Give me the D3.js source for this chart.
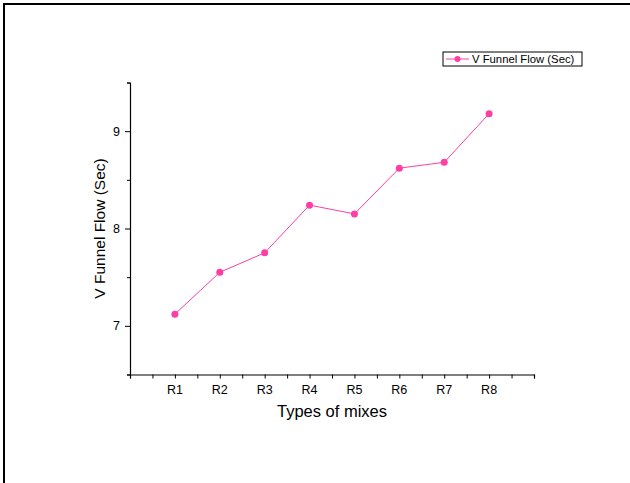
<!DOCTYPE html>
<html>
<head>
<meta charset="utf-8">
<script src="https://cdn.jsdelivr.net/npm/d3@7/dist/d3.min.js"></script>
<style>
  html, body { margin: 0; padding: 0; background: #fff; }
  svg { display: block; font-family: Arial, "Liberation Sans", sans-serif; }
</style>
</head>
<body>
<svg id="chart" width="630" height="483"></svg>
<script>
// Mix labels and measured V-funnel flow times (seconds)
const mixes = ["R1", "R2", "R3", "R4", "R5", "R6", "R7", "R8"];
const flowTimes = [7.12, 7.55, 7.75, 8.24, 8.15, 8.62, 8.68, 9.18];
const yTickValues = [7, 8, 9];
const seriesName = "V Funnel Flow (Sec)";

const pink = "#ff3ea5";
const svg = d3.select("#chart");

// Outer frame: top and left edges only
svg.append("line").attr("x1", 3).attr("x2", 630).attr("y1", 4).attr("y2", 4)
  .attr("stroke", "#000").attr("stroke-width", 2);
svg.append("line").attr("x1", 4).attr("x2", 4).attr("y1", 3).attr("y2", 483)
  .attr("stroke", "#000").attr("stroke-width", 2);

// Position scale: mixes sit at 1..8 on a 0..9 axis
const x = d3.scaleLinear().domain([0, 9]).range([130, 534]);
const y = d3.scaleLinear().domain([6.5, 9.5]).range([374.5, 82.5]);

// X axis: minor ticks at halves, labelled ticks at each mix
const xAxisG = svg.append("g").attr("transform", `translate(0,${y(6.5)})`);
xAxisG.call(d3.axisBottom(x).tickValues(d3.range(0, 9.01, 0.5)).tickSize(4).tickFormat(""))
  .call(g => g.select(".domain").attr("stroke-width", 1.2));
xAxisG.selectAll(".tick line").attr("stroke-width", 1);
xAxisG.selectAll(".label").data(mixes).enter().append("text")
  .attr("x", (d, i) => x(i + 1)).attr("y", 19.5)
  .attr("text-anchor", "middle").attr("font-size", 12.5).attr("fill", "#000")
  .text(d => d);

// Y axis: major ticks at 7, 8, 9 and minor ticks at the halves
const yAxisG = svg.append("g").attr("transform", `translate(${x(0)},0)`);
yAxisG.call(d3.axisLeft(y).tickValues([6.5, 7.5, 8.5, 9.5]).tickSize(3).tickFormat(""))
  .call(g => g.select(".domain").attr("stroke-width", 1.2));
const yMajor = svg.append("g").attr("transform", `translate(${x(0)},0)`);
yMajor.call(d3.axisLeft(y).tickValues(yTickValues).tickSize(5).tickPadding(5).tickFormat(d3.format("d")))
  .call(g => g.select(".domain").remove());
yMajor.selectAll("text").attr("font-size", 12.5).attr("font-family", "Arial, 'Liberation Sans', sans-serif").attr("fill", "#000");

// Axis titles
svg.append("text").attr("x", (x(0) + x(9)) / 2).attr("y", 417)
  .attr("text-anchor", "middle").attr("font-size", 16.5).attr("fill", "#000")
  .text("Types of mixes");
svg.append("text")
  .attr("transform", `translate(105,${y(8)}) rotate(-90)`)
  .attr("text-anchor", "middle").attr("font-size", 15.5).attr("fill", "#000")
  .text("V Funnel Flow (Sec)");

// Series line and markers
const pts = flowTimes.map((v, i) => [x(i + 1), y(v)]);
svg.append("path").attr("d", d3.line()(pts))
  .attr("fill", "none").attr("stroke", pink).attr("stroke-width", 1);
svg.selectAll(".pt").data(pts).enter().append("circle")
  .attr("cx", d => d[0]).attr("cy", d => d[1]).attr("r", 3.5)
  .attr("fill", pink);

// Legend
const lg = svg.append("g").attr("transform", "translate(443,52)");
lg.append("rect").attr("x", 0).attr("y", 0).attr("width", 139).attr("height", 14)
  .attr("fill", "#fff").attr("stroke", "#000").attr("stroke-width", 1);
lg.append("line").attr("x1", 3).attr("x2", 26).attr("y1", 7).attr("y2", 7)
  .attr("stroke", pink).attr("stroke-width", 1);
lg.append("circle").attr("cx", 14.5).attr("cy", 7).attr("r", 3).attr("fill", pink);
lg.append("text").attr("x", 29).attr("y", 11).attr("font-size", 11.3).attr("fill", "#000")
  .text(seriesName);
</script>
</body>
</html>
